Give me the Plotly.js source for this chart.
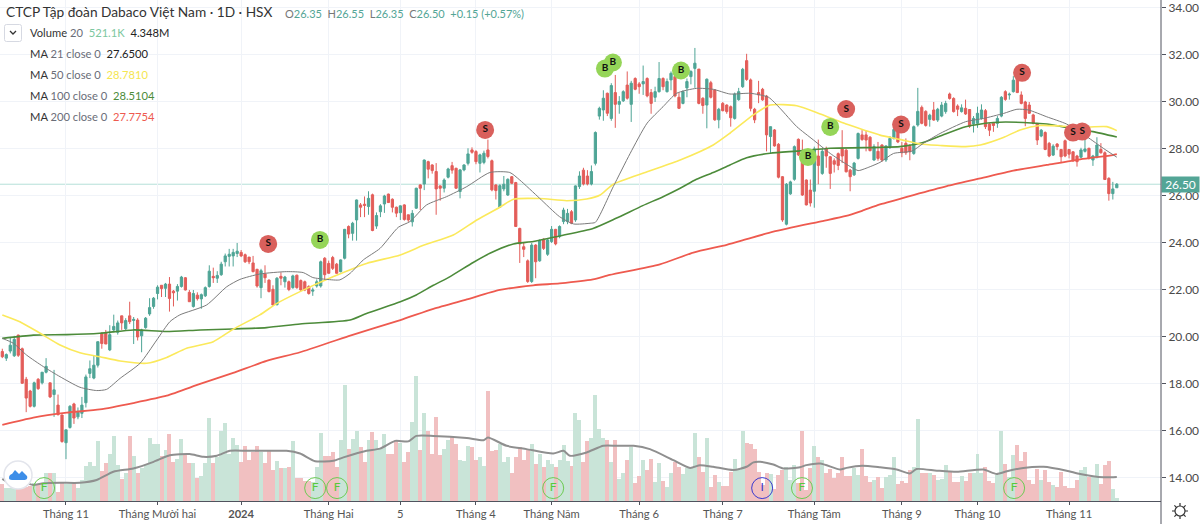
<!DOCTYPE html>
<html>
<head>
<meta charset="utf-8">
<script src="https://cdn.plot.ly/plotly-3.0.1.min.js"></script>
<style>html,body{margin:0;padding:0;background:#fff;overflow:hidden}#chart{width:1200px;height:524px}
.ov{position:absolute;left:0;top:0;pointer-events:none}</style>
</head>
<body>
<div id="chart"></div>
<svg class="ov" width="1200" height="524">
<line x1="1161" y1="0" x2="1161" y2="524" stroke="#50535e" stroke-width="1"/>
<rect x="4.5" y="24.5" width="17" height="17" rx="2" fill="#fff" stroke="#d6d9e2"/>
<path d="M10 31 L13 34 L16 31" fill="none" stroke="#333" stroke-width="1.3"/>
<circle cx="18" cy="475" r="14" fill="#fff" stroke="#e3e5ec" stroke-width="1.5"/>
<path d="M9 478 C9 475 11 474 12 474 L15 470 L19 474 L22 471 L27 476 C28 479 26 480 24 480 L12 480 C10 480 9 479 9 478 Z" fill="#3d8ee8"/>
<g transform="translate(1180,511)" fill="none" stroke="#333" stroke-width="1.2">
<circle r="5"/><path d="M0 -8 V-5 M0 5 V8 M-8 0 H-5 M5 0 H8 M-5.6 -5.6 L-3.6 -3.6 M3.6 3.6 L5.6 5.6 M-5.6 5.6 L-3.6 3.6 M3.6 -3.6 L5.6 -5.6"/>
</g>
</svg>
<script>
const opens=[19.38,19.1,19.4,19.2,20.08,19.5,18.2,17.7,17.05,18.2,
18.05,18.5,18.05,17.55,17.1,16.68,15.5,16.15,17.15,16.6,
16.75,17.2,18.45,18.25,18.8,20.15,20.15,19.45,20.3,20.2,
20.9,20.35,20.9,20.7,20.72,20.05,20.4,20.98,21.3,21.85,
22.2,22.07,22.25,21.95,21.95,22.15,22.52,21.9,21.3,21.78,
21.62,21.75,22.15,22.58,22.5,22.65,23.2,23.43,23.45,23.55,
23.6,23.5,23.4,23.15,22.88,22.1,22.68,22.42,22.03,21.37,
22.58,22.35,22.35,22.1,22.63,22.4,22.35,22.15,21.95,22.17,
22.17,23.35,23.13,23.38,23.1,22.78,23.35,24.7,24.41,24.98,
25.62,25.65,25.55,26.05,24.72,25.33,25.66,26.08,25.86,25.52,
25.29,25.62,25.2,24.9,25.48,26.47,26.51,27.46,27.32,27.04,
26.43,26.33,26.8,27.29,27.18,26.19,27.11,27.39,27.96,27.89,
27.39,27.43,27.96,27.5,26.47,25.52,26.3,26.04,26.82,26.57,
24.62,23.84,23.24,22.36,23.91,23.24,24.16,23.52,24.06,24.58,
24.27,24.91,24.91,25.33,24.98,26.4,27.1,26.85,26.51,27.39,
29.4,29.66,30.37,29.3,30.4,29.9,30.05,30.72,29.9,31,
30.77,30.77,31,30.4,30.2,30.44,31,30.44,30.94,31.08,
30.2,29.94,30.6,31.08,31.43,31.4,30.16,29.87,30.82,30.51,
29.24,29.94,29.87,29.8,29.3,30.1,30.65,31.76,30.94,29.69,
30.4,30.54,30.25,28.53,28.81,28.2,26.82,24.8,26.09,26.71,
28.41,27.75,26.68,26.25,26.2,27.7,26.96,28,27.67,27.5,
27.8,28,27.95,27.1,26.9,27.6,28.6,28.6,28.5,27.53,
27.9,28.17,27.53,28.1,28.45,28.73,28.03,28.24,28.12,27.81,
29.02,29.77,29.6,29.26,29.66,29.23,29.4,29.59,30.34,30.15,
29.83,29.59,29.73,29.68,29.06,29.09,29.3,29.63,29.06,29.1,
29.09,29.4,30.44,30.3,30.44,31,30.3,30,29.87,29.45,
29.09,28.55,28.7,28.24,27.74,28.21,27.98,28.35,27.98,27.88,
27.7,27.65,27.9,28.03,27.53,27.65,27.98,27.84,26.75,26.1,26.35];
const highs=[19.5,19.3,20,20.05,20.1,19.55,18.3,17.75,18.1,18.25,
18.5,19.1,18.05,18.6,17.55,16.7,16.05,17.1,17.2,17,
17.45,18.4,19,19.2,19.8,20.2,20.3,20.5,20.95,20.7,
20.9,20.8,21.5,20.85,20.8,20.35,20.85,21.65,21.7,22.2,
22.2,22.3,22.55,22,22.25,22.6,22.55,22,22,21.9,
21.85,22.15,23.05,22.95,22.8,23.2,23.55,23.75,23.75,24,
23.7,23.55,23.4,23.45,22.9,22.9,23.05,22.45,22.2,22.55,
22.75,22.6,22.4,22.65,22.65,22.45,22.4,22.2,22.1,22.45,
23.25,23.4,23.25,23.45,23.15,23.3,24.6,24.75,24.9,25.85,
25.7,25.98,26.2,26.1,25.3,25.65,26.05,26.1,25.9,25.55,
25.6,25.65,25.2,25.4,26.35,26.5,27.55,27.5,27.35,27.4,
26.45,26.75,27.2,27.45,27.2,27.15,27.35,28.03,28.07,27.95,
27.8,27.93,28.4,27.55,26.5,26.5,26.85,26.75,26.85,26.6,
24.65,24,23.3,24,23.95,24.15,24.2,24.2,24.72,24.6,
24.75,25.5,25.45,25.4,26.45,27.05,27.2,27.1,27.3,28.75,
29.8,30.5,30.4,30.8,31.15,30.25,30.5,31.3,30.9,31.05,
30.85,31.55,31.05,30.55,30.65,31.7,31.05,31,31.3,31.15,
30.4,30.5,31,31.35,32.3,31.4,30.2,31,30.9,30.55,
29.75,30,29.9,29.85,30.4,30.6,31.45,32.05,31,29.75,
30.9,30.6,30.3,28.95,28.85,28.25,26.85,26.55,26.65,28.15,
28.45,28.4,26.7,26.7,28.1,28.4,28,28.1,27.7,27.6,
27.85,28.8,28,27.15,27.45,28.7,28.8,28.8,28.55,28.2,
28.3,28.2,28.15,28.55,28.95,28.8,28.3,28.45,28.2,29,
30.6,29.85,29.65,29.5,30,29.75,30,30.05,30.4,30.2,
29.9,29.9,30.1,29.7,29.4,29.8,29.9,29.7,29.1,29.15,
29.4,30.25,30.5,30.4,31.1,31.05,30.45,30.05,30,29.5,
29.1,28.85,28.75,28.3,28.2,28.25,28,28.4,28,27.9,
27.75,28.05,28.5,28.05,27.75,28.5,28.25,27.9,26.8,26.6,26.55];
const lows=[19.1,18.98,19.3,19.15,19.15,18,16.8,17,17,17.75,
17.98,18.45,17.4,16.6,16.65,15.5,14.8,16.1,16.3,16.5,
16.55,17,18.25,18.2,18.7,19.5,19.7,19.4,20.2,20.1,
20.3,20.3,20.55,19.7,19.85,19.35,20.35,20.9,21.2,21.6,
21.7,21.7,21.08,21.3,21.55,22.1,21.98,21.5,21.25,21.55,
21.2,21.7,22.1,22.3,22.3,22.6,23,23,23,23.4,
23.4,23.15,23.1,22.75,22.1,21.65,22.3,21.9,21.35,21.35,
22.2,22.1,21.95,22.05,22.05,21.95,21.95,21.8,21.75,22.1,
22.1,22.4,22.7,22.85,22.7,22.75,23.3,24.2,24.1,24.1,
25.1,25.1,25.2,24.5,24.6,25.1,25.28,25.7,25.3,25.1,
24.98,24.95,24.9,24.7,25.45,25.4,26.25,26.75,26.95,25.2,
25.8,26.15,26.75,26.95,26.3,25.9,27.05,27.3,27.8,27.35,
27,27.35,27.6,26.2,25.85,25.5,26.2,26,26.5,24.7,
23.15,23.4,22.3,22.3,22.5,23.2,23.7,23.45,24,23.9,
24.2,24.8,24.8,24.8,24.9,26.3,26.45,26.45,26.45,27.3,
29.25,29.2,29.4,29.2,28.9,29.5,30,30.1,29.15,30.5,
30.35,30.3,30.2,29.5,30,30.4,30.5,30.4,30.5,30.2,
29.7,29.9,30.2,30.75,30.6,29.9,29.5,28.88,30.15,29.2,
28.88,29.6,29.5,28.95,29.25,30.05,30.6,30.9,29.6,29.1,
29.95,30.05,27.9,27.82,28.1,26.75,24.9,24.75,26.05,26.65,
27.7,26,25.6,25.55,25.5,26.5,26.9,27.2,26.3,27,
27.1,27.4,27,26.2,26.85,27.55,28.35,27.9,27.9,27.5,
27.5,27.45,27.45,28,28.4,28.25,27.65,27.75,27.52,27.75,
28.95,29.05,28.95,28.95,29.2,29.15,29.35,29.5,30.1,29.55,
29.4,29.55,29.45,28.9,28.7,28.9,29.25,28.85,28.55,28.73,
28.9,29.35,30.05,30.1,30.4,30.38,29.9,28.97,29.5,29.05,
28.17,28.5,27.95,27.65,27.7,27.95,27.4,27.65,27.6,27.45,
27.25,27.6,27.85,27.55,27.28,27.6,27.8,26.7,25.8,25.85,26.35];
const closes=[19.16,19.25,19.65,19.9,19.22,18.03,17.4,17.05,18.05,17.8,
18.5,18.75,17.45,17.75,16.7,15.55,16.05,17.05,16.55,16.8,
17.1,18.3,18.65,18.8,19.8,19.72,19.7,20.1,20.45,20.6,
20.6,20.7,20.65,20.75,20,20.3,20.8,21.25,21.65,22.12,
22.06,22.25,21.64,21.88,22.15,22.55,22,21.5,21.85,21.63,
21.8,22.1,22.8,22.52,22.62,23.1,23.45,23.52,23.6,23.65,
23.45,23.2,23.2,22.78,22.17,22.82,22.52,21.93,21.36,22.5,
22.5,22.55,22.02,22.6,22.1,22,22,21.85,22,22.35,
23.2,22.65,22.71,22.92,22.71,23.28,24.58,24.38,24.84,25.83,
25.52,25.6,25.9,24.53,25.17,25.58,26,25.72,25.52,25.27,
25.58,25,24.98,25.26,26.33,26.33,27.53,27.14,27.08,26.3,
26.33,26.68,27.15,27.1,26.33,27.11,27.32,27.79,27.86,27.46,
27.75,27.82,27.68,26.26,26.23,26.44,26.5,26.71,26.54,24.7,
23.96,23.73,22.36,23.91,23.2,24.1,23.77,24.13,24.58,23.96,
24.7,25.4,25.26,24.84,26.43,26.85,26.51,26.51,27.04,28.7,
29.73,30.16,29.52,30.7,29.9,30.02,30.44,30.16,30.8,30.54,
30.65,30.87,30.26,29.94,30.44,31,30.65,30.87,31.22,30.26,
29.73,30.44,30.87,31.3,31.65,29.94,29.85,30.97,30.2,29.24,
29.69,29.63,29.59,29.33,30.34,30.44,31.39,30.96,29.73,29.24,
30.3,30.09,28.6,28.95,28.13,26.8,24.98,26.5,26.6,28.1,
27.75,26.04,25.62,25.7,28,27.3,27.9,27.7,26.96,27.35,
27.3,27.7,27.03,26.82,27.4,28.66,28.4,28.38,27.93,28.1,
27.6,27.53,28.13,28.45,28.83,28.3,27.84,27.84,27.88,28.95,
29.6,29.09,29,29.44,29.23,29.69,29.87,29.94,30.15,29.59,
29.69,29.75,29.49,28.97,29.3,29.52,29.66,28.95,28.8,29,
29.3,30.2,30.11,30.33,30.93,30.4,29.94,29.3,29.52,29.09,
28.38,28.8,27.98,27.7,28.12,28.1,27.67,27.7,27.78,27.5,
27.46,27.96,28,27.6,27.7,28.17,27.84,26.7,26.1,26.3,26.5];
const volumes=[3,2.4,2.4,3.5,3.5,3.5,2.6,2.7,3.2,2.9,
3.2,5,5,5,1.7,3.2,3,3,3.2,2.4,
3.8,6.4,7,6.4,10.8,5.5,6.9,8.5,11.7,6.5,
4,5,11.8,8.2,5,5.9,6.5,11.4,10.4,10.3,
8.2,9.2,12.1,7,7.7,11.2,8.3,6.8,6.8,4.2,
4.6,6.8,15.1,6.8,7.9,12.6,14.1,8.6,11.5,10.1,
7,10,7.4,8.9,10,8.9,6.8,9.2,5.6,7.2,
5.9,5.9,6.2,10.9,4.2,4.2,3.6,3.6,3.4,6.2,
12.3,8.2,8.2,8.9,6.2,11,21,9.5,11.2,12.6,
9.7,7,11,12.5,11,9.5,12.1,8.5,8.5,11,
10.6,7,8.8,14.3,22.7,9.2,16,12.7,8.5,15.2,
8.3,9.4,11,11.8,10.4,7.5,7.2,10,9.8,7.5,
8,6.4,19.9,9,9.2,10.3,7,7.9,5,7.9,
9.7,7.4,9.5,10.3,6.7,8.6,6.1,7.4,6.7,6.2,
7.4,10.1,7.3,6.4,15.9,14.7,7.1,10.9,11.4,19.2,
13,11.5,11,7,11,4,5.1,7.5,9.8,3.2,
4.6,7.5,5.6,7.7,3.5,6.9,3.7,2.6,5,7,
6.2,4.9,5.9,5.9,12.4,7.9,5.3,11.5,2.5,4.8,
3.4,2.8,2.8,5.3,7.7,5.7,12.6,10.6,10.3,9.4,
5.3,2.9,5,4.9,2.1,4.8,5.6,6.2,3.8,6.5,
3.2,12.7,2,6,10,7.9,7.4,5,5.8,4.2,
5,8,4.5,4.5,5.9,4.8,9.5,4.5,3.4,3.8,
4.4,2.4,4.3,4.7,7.9,3,3.6,3.2,5.6,6.2,
14.9,5,5.1,5.1,4.8,3.8,3.9,6.5,5.5,3.4,
3.4,4.5,3.7,5,5.1,8.5,5.1,6.2,3.6,3.2,
4.7,12.7,6.7,4.3,8.3,10.1,7.2,8.8,3.8,3.1,
5.8,3.8,5.6,3.4,2.9,2.5,5.3,2.8,2.4,2.4,
3.8,5.6,6.1,4.4,4.5,6.7,3,6.5,7.2,2.1,0.5];

const ma21Idx=[0,2.8,6.1,10.3,14.5,19.5,23.7,26.2,29.6,34.6,38.8,42.1,44.6,51.3,56.4,59.7,64.7,71.4,75.6,78,81.5,84.8,87.4,90.7,94.9,99.5,102.4,106.6,111.6,116.7,122.5,127.5,130,135,140,143.5,147.7,149,153.5,157.7,162,166,169.4,174.4,178.6,182.8,187.9,192.5,195.4,199.6,203.8,208,212,215,217,220.5,223.9,228.5,231.4,235.6,242,246.5,251.5,254.9,257.8,262.4,267.4,272.5,276.6,280];
const ma21Val=[19.94,19.73,19.23,18.74,18.31,17.86,17.72,17.77,18.24,18.88,19.87,20.65,20.94,21.36,22.14,22.45,22.68,22.78,22.74,22.53,22.45,22.43,22.71,23.28,23.77,24.67,24.91,25.62,25.97,26.4,27,27,26.68,25.9,25.12,24.81,24.84,24.88,26.4,27.8,29.1,29.8,30.37,30.58,30.54,30.34,30.37,30.2,29.73,28.95,28.38,27.81,27.36,27.08,27.18,27.43,27.81,27.91,28.24,28.66,29.16,29.3,29.51,29.69,29.66,29.37,29.06,28.52,28.03,27.65];
const ma50Idx=[0,4.4,9.5,14.5,19.5,24.5,29.6,36.3,41.3,46.3,53,58,64.7,69,74.8,83.2,91.5,100,105.8,113.3,119.2,125,128.4,135,141.8,146.8,150.2,153.5,162,170.3,178.6,182.8,188.7,192.9,199.6,205.5,212,217,220.5,225.5,230.6,235.6,242,245.7,251.5,255.7,260.7,265.7,270.8,277.5,280];
const ma50Val=[20.94,20.65,20.16,19.66,19.33,19.16,18.98,18.88,19.13,19.52,19.8,20.33,20.94,21.43,21.93,22.57,23.13,23.49,23.9,24.34,24.98,25.52,25.86,25.89,25.8,25.87,26.04,26.5,27.03,27.53,28.17,28.67,29.45,29.87,29.84,29.49,29.06,28.78,28.59,28.41,28.21,28.15,28.1,28.17,28.49,28.81,29,28.98,28.92,28.95,28.78];
const ma100Idx=[0,7.8,16.2,24.5,32.9,41.3,49.7,58,66.4,74.8,87.4,91.5,100,104,108.3,112.5,118.3,122.5,128.4,133.4,140,148.4,154.2,160.9,166,170.3,174.4,178.6,182.8,187,192.9,199.6,208,220.5,225.5,230.6,235.6,242,249,256.5,262.4,267.4,274,280];
const ma100Val=[19.94,20.08,20.1,20.16,20.3,20.23,20.3,20.34,20.4,20.55,20.72,21,21.5,21.79,22.2,22.57,23.17,23.56,23.96,24.06,24.3,24.62,25.05,25.59,25.97,26.33,26.71,27,27.32,27.63,27.82,27.91,28.03,28.07,28.1,28.24,28.55,28.95,29.13,29.13,29.06,28.92,28.74,28.51];
const ma200Idx=[0,7.8,16.2,24.5,32.9,41.3,49.7,58,66.4,74.8,87,100,108.3,116.7,125,133.4,140,148.4,152.6,165.2,173.6,182,187,193.7,205.4,212,216,220.5,228.9,237.3,245.7,254,262.4,270.8,279,280];
const ma200Val=[16.26,16.57,16.78,16.92,17.19,17.5,18,18.47,18.98,19.35,20.04,20.72,21.2,21.6,22,22.2,22.28,22.45,22.64,23.09,23.59,23.92,24.16,24.48,24.91,25.15,25.37,25.64,26.04,26.42,26.75,27.08,27.32,27.56,27.74,27.78];
const volMaIdx=[0,2,5.3,7.8,10.3,14.5,19.5,23.7,27.9,32.9,38,42.1,47.1,50.5,53.9,57.2,61.4,66.4,71.4,74.8,78.6,83.2,85.7,91.5,94.9,98.7,102,104,108.3,116.7,120.9,122,126.7,131.7,138.4,141,142.6,146.8,151,154.4,158.6,162.7,168.6,172.8,175.3,178.6,183.7,187,188.7,190.4,193.7,196.2,200.4,202,205.5,210.5,212.1,216,220.5,224.7,228,229.7,234.8,239.8,246.5,249.8,252.4,256.5,261.6,267.4,270.8,276.6,280];
const volMaVal=[4,3.2,3.4,2.9,3.2,3.3,3.3,3.8,5.3,5.9,7.1,8.3,8.5,8,8.2,9.1,9.1,9.1,9.1,8.6,7.2,7.3,7.9,9.1,9.5,10.9,10.8,11.8,11.8,11.4,11,11.5,10,9.4,8.6,9.1,8.2,8.8,10,10,10,9.4,7.4,6,6.5,6.2,5.6,6.2,7,7.1,6.6,5.9,6.1,6.5,6.8,5.7,6,6.4,6.1,5.7,5,5.8,5.5,5.3,5.7,4.9,5.4,6,6.2,5.5,4.9,4.3,4.35];

const sellIdx=[66.8,121.3,212,225.8,256.2,269,271.3];
const sellPrice=[23.96,28.81,29.7,29.04,31.24,28.7,28.74];
const buyIdx=[79.8,151.4,153.4,170.5,208,202.4];
const buyPrice=[24.13,31.42,31.68,31.34,28.94,27.66];
const fIdx=[10.5,78.6,84.1,138.4,200.9,254.2];
const iIdx=[190.9];
const eventPrice=13.57;

const tickIdx=[16,39,60,82,100,119,138,160,181,204,226,245,268];
const tickText=["Tháng 11","Tháng Mười hai","<b>2024</b>","Tháng Hai","5","Tháng 4","Tháng Năm","Tháng 6","Tháng 7","Tháng Tám","Tháng 9","Tháng 10","Tháng 11"];
const priceTicks=[14,16,18,20,22,24,26,28,30,32,34];

const idx=closes.map((_,i)=>i);
const UP='#4fa596',DN='#e35d59';
const font='Lato, "Noto Sans", sans-serif';
const W=1161,H=501;
const px=x=>x/W, py=y=>1-y/H;
function note(x,y,text,size,color){return {xref:'paper',yref:'paper',x:px(x),y:py(y),text:text,showarrow:false,xanchor:'left',yanchor:'middle',align:'left',font:{family:font,size:size,color:color||'#6a6d78'}};}
const sp=(c,t)=>`<span style="color:${c}">${t}</span>`;
const smooth=(w,c)=>({color:c,width:w,shape:'spline',smoothing:0.6});

const traces=[
{type:'bar',x:idx,y:volumes,yaxis:'y',xaxis:'x',marker:{color:closes.map((c,i)=>c>=opens[i]?'#c9e4d8':'#f1c0c1'),line:{width:0}},hoverinfo:'skip'},
{type:'scatter',mode:'lines',x:volMaIdx,y:volMaVal,yaxis:'y',line:smooth(2,'#8f8f8f'),hoverinfo:'skip'},
{type:'candlestick',x:idx,open:opens,high:highs,low:lows,close:closes,yaxis:'y2',xaxis:'x',whiskerwidth:0,
 increasing:{line:{color:UP,width:1},fillcolor:UP},decreasing:{line:{color:DN,width:1},fillcolor:DN},hoverinfo:'skip'},
{type:'scatter',mode:'lines',x:ma200Idx,y:ma200Val,yaxis:'y2',line:smooth(1.8,'#ee5a4f')},
{type:'scatter',mode:'lines',x:ma100Idx,y:ma100Val,yaxis:'y2',line:smooth(1.6,'#4c8b3a')},
{type:'scatter',mode:'lines',x:ma50Idx,y:ma50Val,yaxis:'y2',line:smooth(1.6,'#fbe95b')},
{type:'scatter',mode:'lines',x:ma21Idx,y:ma21Val,yaxis:'y2',line:smooth(1,'#7b7b7b')},
{type:'scatter',mode:'markers+text',x:buyIdx,y:buyPrice,yaxis:'y2',text:buyIdx.map(()=>'<b>B</b>'),textposition:'middle center',textfont:{family:font,size:10,color:'#111'},marker:{size:18,color:'#95d558'}},
{type:'scatter',mode:'markers+text',x:sellIdx,y:sellPrice,yaxis:'y2',text:sellIdx.map(()=>'<b>S</b>'),textposition:'middle center',textfont:{family:font,size:10,color:'#111'},marker:{size:18,color:'#d9605c'}},
{type:'scatter',mode:'markers+text',x:fIdx,y:fIdx.map(()=>eventPrice),yaxis:'y2',text:fIdx.map(()=>'F'),textposition:'middle center',textfont:{family:font,size:12,color:'#57c93a'},marker:{size:21,color:'rgba(0,0,0,0)',line:{color:'#6ccb52',width:1}}},
{type:'scatter',mode:'markers+text',x:iIdx,y:iIdx.map(()=>eventPrice),yaxis:'y2',text:iIdx.map(()=>'I'),textposition:'middle center',textfont:{family:font,size:12,color:'#3a3ad0'},marker:{size:21,color:'rgba(0,0,0,0)',line:{color:'#3a3ad0',width:1}}}
];

const layout={
 width:1200,height:524,margin:{l:0,r:39,t:0,b:23,pad:0},paper_bgcolor:'#fff',plot_bgcolor:'#fff',showlegend:false,hovermode:false,
 boxgap:0.2,bargap:0,
 font:{family:font,color:'#4a4a4a'},
 xaxis:{range:[-0.58,291.1],tickmode:'array',tickvals:tickIdx,ticktext:tickText,showgrid:true,gridcolor:'#f0f3f8',gridwidth:1,zeroline:false,showline:true,linecolor:'#50535e',linewidth:1,ticks:'outside',ticklen:3,tickcolor:'#50535e',tickfont:{size:11.2,color:'#555'},rangeslider:{visible:false},fixedrange:true},
 yaxis:{range:[0,90.8],domain:[0,1],visible:false,fixedrange:true},
 yaxis2:{range:[13.02,34.34],overlaying:'y',side:'right',anchor:'x',tickmode:'array',tickvals:priceTicks,tickformat:'.2f',ticklabeloverflow:'allow',showgrid:true,gridcolor:'#f0f3f8',gridwidth:1,zeroline:false,ticks:'outside',ticklen:4,tickcolor:'#50535e',tickfont:{size:12,color:'#4a4a4a'},showline:false,fixedrange:true},
 shapes:[{type:'line',xref:'paper',yref:'y2',x0:0,x1:1,y0:26.5,y1:26.5,line:{color:'#b5e0d8',width:1},layer:'below'}],
 annotations:[
  note(4,12,'CTCP Tập đoàn Dabaco Việt Nam · 1D · HSX',13.7,'#333'),
  note(283,13,sp('#777','O')+sp('#53a596','26.35')+'  '+sp('#777','H')+sp('#53a596','26.55')+'  '+sp('#777','L')+sp('#53a596','26.35')+'  '+sp('#777','C')+sp('#53a596','26.50')+'  '+sp('#53a596','+0.15 (+0.57%)'),11),
  note(28,33,sp('#333','Volume')+' 20  '+sp('#7dc7a0','521.1K')+'  '+sp('#222','4.348M'),11.2),
  note(28,54,sp('#333','MA')+' 21 close 0  '+sp('#222','27.6500'),11.2),
  note(28,75,sp('#333','MA')+' 50 close 0  '+sp('#f5e650','28.7810'),11.2),
  note(28,96,sp('#333','MA')+' 100 close 0  '+sp('#4c8b3a','28.5104'),11.2),
  note(28,117,sp('#333','MA')+' 200 close 0  '+sp('#ee5a4f','27.7754'),11.2),
  {xref:'paper',yref:'y2',x:1,xshift:0,y:26.5,text:'26.50',showarrow:false,xanchor:'left',yanchor:'middle',bgcolor:'#53a596',borderpad:1,width:35,height:13,align:'center',font:{family:font,size:12,color:'#fff'}}
 ]
};
Plotly.newPlot('chart',traces,layout,{staticPlot:true,displayModeBar:false});
</script>
</body>
</html>
